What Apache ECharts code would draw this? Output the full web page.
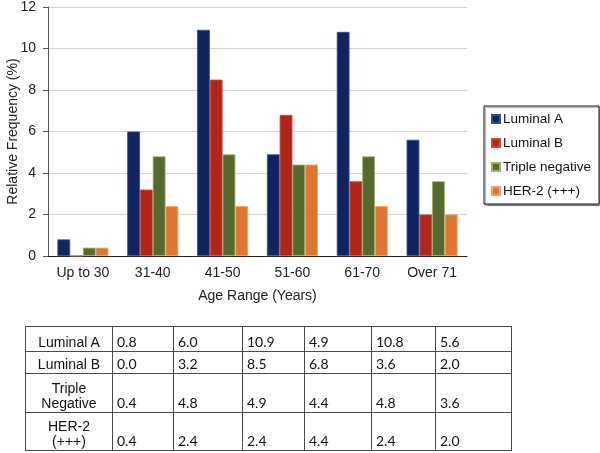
<!DOCTYPE html>
<html>
<head>
<meta charset="utf-8">
<script src="https://cdn.jsdelivr.net/npm/echarts@6/dist/echarts.min.js"></script>
<style>
  html, body { margin: 0; padding: 0; background: #fff; }
  #wrap { position: relative; width: 600px; height: 453px; overflow: hidden; }
  #chart { position: absolute; left: 0; top: 0; width: 600px; height: 453px; }
  #tbl { position: absolute; left: 25px; top: 326px; border-collapse: collapse; table-layout: fixed; }
  #tbl td { border: 1px solid #4a4a4a; padding: 0 4px 1px 4px; color: #111; }
  #tbl td.lab { font-family: "Liberation Sans", Arial, sans-serif; font-size: 14px; text-align: center; vertical-align: bottom; line-height: 15px; padding-bottom: 1px; }
  #tbl td.val { font-family: Lato, "Noto Sans", sans-serif; font-size: 14px; text-align: left; vertical-align: bottom; }
</style>
</head>
<body>
<div id="wrap">
  <div id="chart"></div>
  <table id="tbl"></table>
</div>
<script>
const categories = ["Up to 30", "31-40", "41-50", "51-60", "61-70", "Over 71"];
const seriesNames = ["Luminal A", "Luminal B", "Triple negative", "HER-2 (+++)"];
const tableLabels = ["Luminal A", "Luminal B", "Triple<br>Negative", "HER-2<br>(+++)"];
const luminalA = [0.8, 6.0, 10.9, 4.9, 10.8, 5.6];
const luminalB = [0.0, 3.2, 8.5, 6.8, 3.6, 2.0];
const tripleNegative = [0.4, 4.8, 4.9, 4.4, 4.8, 3.6];
const her2 = [0.4, 2.4, 2.4, 4.4, 2.4, 2.0];
const yTicks = [0, 2, 4, 6, 8, 10, 12];

const colors = ["#0f2461", "#b1261a", "#556b2d", "#de7631"];
const borders = ["#3a4f8a", "#d04a3c", "#9db066", "#f0a060"];
const allData = [luminalA, luminalB, tripleNegative, her2];

const chart = echarts.init(document.getElementById('chart'));
chart.setOption({
  animation: false,
  textStyle: { fontFamily: '"Liberation Sans", Arial, sans-serif' },
  grid: { left: 48, right: 133, top: 7, bottom: 197, containLabel: false, outerBoundsMode: 'none' },
  legend: {
    orient: 'vertical',
    left: 484, top: 106,
    width: 113,
    padding: [6, 8, 6, 7],
    itemGap: 10,
    itemWidth: 8, itemHeight: 8,
    borderColor: '#111', borderWidth: 1,
    shadowColor: 'rgba(0,0,0,0.35)', shadowOffsetX: 1.5, shadowOffsetY: 1.5, shadowBlur: 1,
    backgroundColor: '#fff',
    icon: 'rect',
    textStyle: { fontSize: 13.5, color: '#111', padding: [0, 0, 0, -2] },
    data: seriesNames
  },
  xAxis: {
    type: 'category',
    data: categories,
    name: 'Age Range (Years)',
    nameLocation: 'middle',
    nameGap: 33,
    nameMoveOverlap: false,
    nameTextStyle: { fontSize: 14, color: '#222' },
    axisLine: { lineStyle: { color: '#222', width: 1.2 } },
    axisTick: { show: false },
    axisLabel: { fontSize: 14, color: '#222', margin: 10 }
  },
  yAxis: {
    type: 'value',
    min: yTicks[0], max: yTicks[yTicks.length - 1], interval: 2,
    name: 'Relative Frequency (%)',
    nameLocation: 'middle',
    nameGap: 28,
    nameMoveOverlap: false,
    nameTextStyle: { fontSize: 14, color: '#222' },
    axisLine: { show: true, lineStyle: { color: '#555' } },
    axisTick: { show: true, length: 5, lineStyle: { color: '#555' } },
    axisLabel: { fontSize: 14, color: '#222', margin: 12 },
    splitLine: { lineStyle: { color: '#d3d3d3', width: 1.2 } }
  },
  series: seriesNames.map((n, i) => ({
    name: n,
    type: 'bar',
    data: allData[i],
    barGap: '0%',
    barCategoryGap: '27%',
    itemStyle: { color: colors[i], borderColor: borders[i], borderWidth: 0.8 }
  }))
});

// Table built from the same arrays
const colWidths = [87, 61, 69, 62, 67, 64, 76];
const rowHeights = [25, 22, 39, 38];
const tbl = document.getElementById('tbl');
let html = '<colgroup>' + colWidths.map(w => `<col style="width:${w}px">`).join('') + '</colgroup>';
allData.forEach((arr, r) => {
  html += `<tr style="height:${rowHeights[r]}px"><td class="lab">${tableLabels[r]}</td>` +
    arr.map(v => `<td class="val">${v.toFixed(1)}</td>`).join('') + '</tr>';
});
tbl.innerHTML = html;
</script>
</body>
</html>
